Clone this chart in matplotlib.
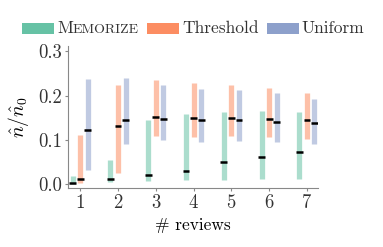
import matplotlib
matplotlib.use("Agg")
import matplotlib.pyplot as plt
import numpy as np
from matplotlib.patches import Rectangle
from matplotlib.offsetbox import (AnchoredOffsetbox, DrawingArea, HPacker,
                                  TextArea)

plt.rcParams['font.family'] = 'serif'
plt.rcParams['font.serif'] = ['cmr10']
plt.rcParams['mathtext.fontset'] = 'cm'
plt.rcParams['axes.formatter.use_mathtext'] = True
plt.rcParams['font.size'] = 12.5

reviews = [1, 2, 3, 4, 5, 6, 7]

# low / median / high of n_hat / n_hat_0
mem_lo = [0.000, 0.005, 0.006, 0.008, 0.009, 0.011, 0.011]
mem_med = [0.003, 0.011, 0.020, 0.030, 0.049, 0.061, 0.073]
mem_hi = [0.017, 0.055, 0.145, 0.159, 0.164, 0.166, 0.163]

thr_lo = [0.003, 0.024, 0.109, 0.106, 0.108, 0.106, 0.102]
thr_med = [0.011, 0.131, 0.151, 0.149, 0.149, 0.147, 0.144]
thr_hi = [0.111, 0.224, 0.236, 0.229, 0.225, 0.218, 0.207]

uni_lo = [0.032, 0.091, 0.100, 0.094, 0.098, 0.094, 0.091]
uni_med = [0.123, 0.145, 0.147, 0.144, 0.144, 0.141, 0.138]
uni_hi = [0.238, 0.240, 0.223, 0.215, 0.213, 0.207, 0.193]

names = ['MEMORIZE', 'Threshold', 'Uniform']
colors = ['#66c2a5', '#fc8d62', '#8da0cb']
series = [(mem_lo, mem_med, mem_hi), (thr_lo, thr_med, thr_hi), (uni_lo, uni_med, uni_hi)]
offsets = [-0.2, 0.0, 0.2]

fig, ax = plt.subplots(figsize=(3.83, 2.47), dpi=100)
fig.subplots_adjust(left=0.178, right=0.83, bottom=0.239, top=0.815)

x = np.array(reviews, dtype=float)
for (lo, med, hi), c, off in zip(series, colors, offsets):
    xs = x + off
    ax.vlines(xs, lo, hi, color=c, alpha=0.55, linewidth=3.8)
    ax.hlines(med, xs - 0.09, xs + 0.09, color='black', linewidth=1.8, zorder=3)

ax.set_xlim(0.68, 7.29)
ax.set_ylim(-0.009, 0.313)
ax.set_xticks(reviews)
ax.set_yticks([0.0, 0.1, 0.2, 0.3])
ax.set_yticklabels(['0.0', '0.1', '0.2', '0.3'])
ax.set_xlabel('# reviews', labelpad=4)
ax.set_ylabel(r'$\hat{n}/\hat{n}_0$', fontsize=14, labelpad=5)

for s in ['top', 'right']:
    ax.spines[s].set_visible(False)
for s in ['left', 'bottom']:
    ax.spines[s].set_color('#888888')
ax.tick_params(colors='#888888', labelcolor='#333333', length=2.5, pad=2,
               labelsize=13.5)

# legend built by hand so MEMORIZE can be set in small caps
txt = dict(color='#333333', fontsize=12.5)
small = dict(color='#333333', fontsize=10)
items = []
for name, c in zip(names, colors):
    da = DrawingArea(23, 7.5, 0, 0)
    da.add_artist(Rectangle((0, 0), 23, 7.5, facecolor=c, edgecolor='none'))
    if name == 'MEMORIZE':
        lab = HPacker(children=[TextArea(name[0], textprops=txt),
                                TextArea(name[1:], textprops=small)],
                      align='baseline', pad=0, sep=0)
    else:
        lab = TextArea(name, textprops=txt)
    items.append(HPacker(children=[da, lab], align='center', pad=0, sep=2))
box = HPacker(children=items, align='center', pad=0, sep=6)
anch = AnchoredOffsetbox(loc='center', child=box, frameon=False,
                         bbox_to_anchor=(0.505, 0.885),
                         bbox_transform=fig.transFigure, borderpad=0)
fig.add_artist(anch)

fig.savefig('out.png', dpi=100)
